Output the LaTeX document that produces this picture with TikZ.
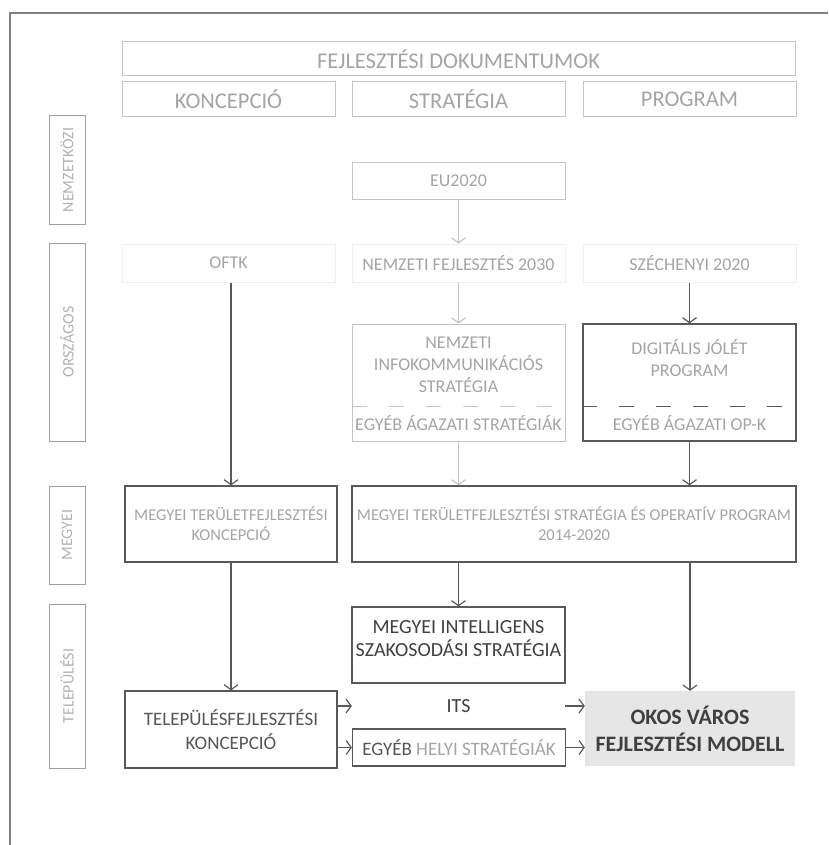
\documentclass[tikz,border=0pt]{standalone}
\usepackage{fontspec}
\setmainfont{Carlito}
\usetikzlibrary{arrows.meta}
\definecolor{lineLight}{HTML}{C4C4C4}
\definecolor{lineFaint}{HTML}{EFEFEF}
\definecolor{lineDark}{HTML}{595959}
\definecolor{textLight}{HTML}{A4A4A4}
\definecolor{textMid}{HTML}{555555}
\definecolor{textDark}{HTML}{404040}
\definecolor{okosFill}{HTML}{E6E6E6}
\begin{document}
\begin{tikzpicture}[x=1pt, y=-1pt,
  every node/.style={inner sep=0pt, align=center},
  head/.style={draw=lineLight, line width=1pt, text=textLight, minimum width=213pt, minimum height=35pt, font=\fontsize{22.5}{26}\selectfont},
  lvl/.style={draw=gray!75, line width=1pt, text=textLight!85, minimum height=36pt, rotate=90, font=\fontsize{16}{19}\selectfont},
  lbox/.style={draw=lineLight, line width=1pt, text=textLight, minimum width=213pt, font=\fontsize{18}{22}\selectfont},
  fbox/.style={draw=lineFaint, line width=1pt, text=textLight, minimum width=213pt, minimum height=38pt, font=\fontsize{18}{22}\selectfont},
  dbox/.style={draw=lineDark, line width=1.2pt, minimum width=213pt},
  arrD/.style={-{Straight Barb[length=5pt,width=14pt]}, line width=1.2pt, draw=lineDark},
  arrL/.style={arrD, draw=lineLight}]
\useasboundingbox (0,0) rectangle (828,845);
\draw[gray, line width=1.5pt] (10,845) -- (10,13) -- (828,13);

\node[head, minimum width=673pt, minimum height=34pt] (docs) at (458.5,59) {FEJLESZTÉSI DOKUMENTUMOK};
\node[head] (konc) at (228.5,99.5) {KONCEPCIÓ};
\node[head] (strat) at (458.5,99.5) {STRATÉGIA};
\node[head] (prog) at (689.5,99.5) {PROGRAM};

\node[lvl, minimum width=108pt] (nemz) at (67,170) {NEMZETKÖZI};
\node[lvl, minimum width=198pt] (orsz) at (67,342) {ORSZÁGOS};
\node[lvl, minimum width=98pt] (megy) at (67,535) {MEGYEI};
\node[lvl, minimum width=164pt] (telep) at (67,686) {TELEPÜLÉSI};

\node[lbox, minimum height=36pt] (eu) at (458.5,181) {EU2020};

\node[fbox] (oftk) at (228.5,263) {OFTK};
\node[fbox] (nf) at (458.5,263) {NEMZETI FEJLESZTÉS 2030};
\node[fbox] (sz) at (689.5,263) {SZÉCHENYI 2020};

\node[lbox, minimum height=117pt] (nis) at (458.5,382.5) {};
\node[text=textLight, font=\fontsize{18}{22}\selectfont] (nisT) at (458.5,365) {NEMZETI\\INFOKOMMUNIKÁCIÓS\\STRATÉGIA};
\node[text=textLight, font=\fontsize{18}{22}\selectfont] (nisE) at (458.5,423.5) {EGYÉB ÁGAZATI STRATÉGIÁK};
\draw[lineLight, line width=1pt, dash pattern=on 15pt off 22pt] ([yshift=35pt]nis.south west) -- ([yshift=35pt]nis.south east);

\node[dbox, minimum height=117pt] (dj) at (689.5,382.5) {};
\node[text=textLight, font=\fontsize{18}{22}\selectfont] (djT) at (689.5,358) {DIGITÁLIS JÓLÉT\\PROGRAM};
\node[text=textLight, font=\fontsize{18}{22}\selectfont] (djE) at (689.5,423.5) {EGYÉB ÁGAZATI OP-K};
\draw[lineDark, line width=1pt, dash pattern=on 15pt off 22pt] ([yshift=35pt]dj.south west) -- ([yshift=35pt]dj.south east);

\node[dbox, text=textLight, minimum width=212pt, minimum height=76pt, font=\fontsize{16.5}{20}\selectfont] (mtk) at (231,524) {MEGYEI TERÜLETFEJLESZTÉSI\\KONCEPCIÓ};
\node[dbox, text=textLight, minimum width=444pt, minimum height=76pt, font=\fontsize{16.5}{20}\selectfont] (mts) at (574,524) {MEGYEI TERÜLETFEJLESZTÉSI STRATÉGIA ÉS OPERATÍV PROGRAM\\2014-2020};

\node[dbox, minimum height=76pt] (mis) at (458.5,645) {};
\node[text=textDark, font=\fontsize{20}{23}\selectfont] (misT) at (458.5,638.5) {MEGYEI INTELLIGENS\\SZAKOSODÁSI STRATÉGIA};

\node[dbox, text=textMid, minimum width=212pt, minimum height=77pt, font=\fontsize{19}{24}\selectfont] (tfk) at (231,729.5) {TELEPÜLÉSFEJLESZTÉSI\\KONCEPCIÓ};
\node[text=textDark, minimum width=213pt, minimum height=30pt, font=\fontsize{20}{24}\selectfont] (its) at (458.5,706) {ITS};
\node[dbox, minimum height=37pt, font=\fontsize{19}{23}\selectfont] (ehs) at (459,747.5) {\textcolor{textMid}{EGYÉB} \textcolor{textLight}{HELYI STRATÉGIÁK}};
\node[fill=okosFill, text=textDark, minimum width=210pt, minimum height=75pt, font=\bfseries\fontsize{22}{27}\selectfont] (okos) at (690,728.5) {OKOS VÁROS\\FEJLESZTÉSI MODELL};

\draw[arrL] (eu) -- (nf);
\draw[arrL] (nf) -- (nis);
\draw[arrD] (sz) -- (dj);
\draw[arrD] (oftk.south -| mtk.north) -- (mtk.north);
\draw[arrL] (nis) -- (nis.south |- mts.north);
\draw[arrD] (dj) -- (dj.south |- mts.north);
\draw[arrD] (mis.north |- mts.south) -- (mis);
\draw[arrD] (okos.north |- mts.south) -- (okos);
\draw[arrD] (mtk) -- (tfk);
\draw[arrD] (tfk.east |- its.west) -- (its.west);
\draw[arrD] (its) -- (its.east -| okos.west);
\draw[arrD] (tfk.east |- ehs.west) -- (ehs);
\draw[arrD] (ehs) -- (ehs.east -| okos.west);
\end{tikzpicture}
\end{document}
